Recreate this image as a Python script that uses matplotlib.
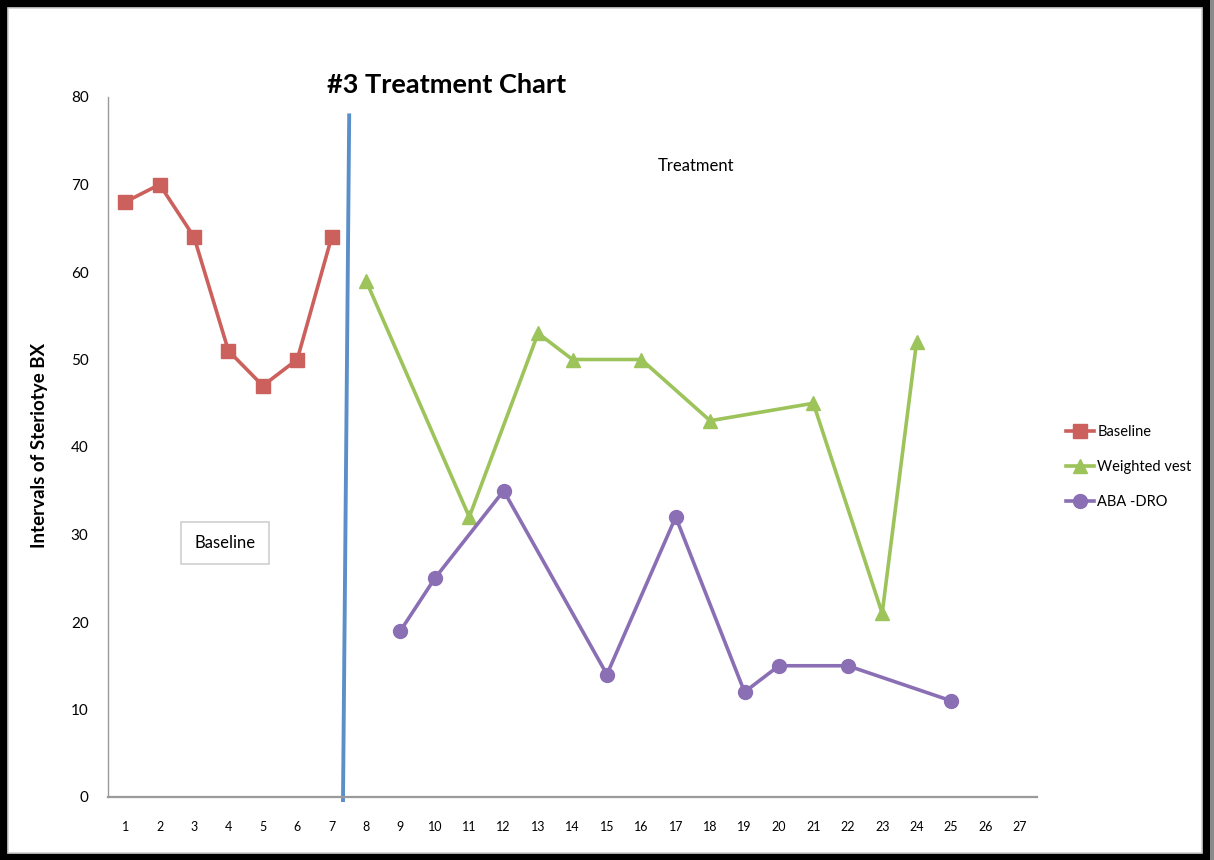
import numpy as np
import matplotlib
matplotlib.use("Agg")
import matplotlib.pyplot as plt
from matplotlib import font_manager
from matplotlib.patches import Rectangle
from matplotlib.lines import Line2D

# data
sessions = list(range(1, 28))
baseline_x = [1, 2, 3, 4, 5, 6, 7]
baseline_y = [68, 70, 64, 51, 47, 50, 64]
vest_x = [8, 11, 13, 14, 16, 18, 21, 23, 24]
vest_y = [59, 32, 53, 50, 50, 43, 45, 21, 52]
dro_x = [9, 10, 12, 15, 17, 19, 20, 22, 25]
dro_y = [19, 25, 35, 14, 32, 12, 15, 15, 11]
y_ticks = [0, 10, 20, 30, 40, 50, 60, 70, 80]

RED = "#CB605C"
GREEN = "#9DC35B"
PURPLE = "#8B6FB4"
BLUE = "#5B8FC9"
TEXT_FONT = ["Lato", "DejaVu Sans"]


def has_font(name):
    try:
        font_manager.findfont(name, fallback_to_default=False)
        return True
    except Exception:
        return False


NARROW_FONT = ["Liberation Sans Narrow", "DejaVu Sans"] if has_font("Liberation Sans Narrow") else TEXT_FONT

fig = plt.figure(figsize=(12.14, 8.6), dpi=100, facecolor="black")
W, H = 1214, 860

# white page inside the black frame
fig.patches.append(Rectangle((1210 / W, 0), 4 / W, 1, transform=fig.transFigure,
                             facecolor="#8a8a8a", edgecolor="none", zorder=0))
fig.patches.append(Rectangle((8 / W, 7 / H), 1194 / W, 845 / H, transform=fig.transFigure,
                             facecolor="white", edgecolor="#cfcfcf", linewidth=1.2, zorder=1))

ax = fig.add_axes([108 / W, 63 / H, 929 / W, 700 / H])
ax.set_facecolor("none")
ax.set_zorder(2)

ax.plot(baseline_x, baseline_y, color=RED, marker="s", markersize=10, linewidth=2.6,
        label="Baseline")
ax.plot(vest_x, vest_y, color=GREEN, marker="^", markersize=10, linewidth=2.6,
        label="Weighted vest")
ax.plot(dro_x, dro_y, color=PURPLE, marker="o", markersize=10, linewidth=2.6,
        label="ABA -DRO")

# phase change line (slightly slanted, as drawn by hand)
ax.add_line(Line2D([7.51, 7.33], [77.9, -0.35], color=BLUE, linewidth=2.8, clip_on=False))

ax.set_xlim(0.5, 27.5)
ax.set_ylim(0, 80)
ax.set_xticks(sessions)
ax.set_xticklabels([str(s) for s in sessions], fontsize=9, family=NARROW_FONT)
ax.set_yticks(y_ticks)
ax.set_yticklabels([str(v) for v in y_ticks], fontsize=11, family=NARROW_FONT)
ax.tick_params(axis="both", length=0)
ax.tick_params(axis="x", pad=17)
ax.tick_params(axis="y", pad=14)
for side in ["top", "right"]:
    ax.spines[side].set_visible(False)
ax.spines["left"].set_color("#9a9a9a")
ax.spines["left"].set_linewidth(1)
ax.spines["bottom"].set_color("#9a9a9a")
ax.spines["bottom"].set_linewidth(1.6)

fig.text(40 / W, 1 - 445 / H, "Intervals of Steriotye BX", fontsize=13.5, fontweight="bold",
         family=TEXT_FONT, rotation=90, ha="center", va="center")

fig.text(447 / W, 1 - 85 / H, "#3 Treatment Chart", fontsize=19.5, fontweight="bold",
         family=NARROW_FONT, ha="center", va="center")
fig.text(696 / W, 1 - 166 / H, "Treatment", fontsize=12, family=TEXT_FONT,
         ha="center", va="center")
fig.text(225 / W, 1 - 543 / H, "Baseline", fontsize=12, family=TEXT_FONT,
         ha="center", va="center",
         bbox=dict(boxstyle="square,pad=0.8", facecolor="white", edgecolor="#d0d0d0",
                   linewidth=1.2))

leg = fig.legend(loc="center left", bbox_to_anchor=(1053 / W, 1 - 467 / H), frameon=False,
                 handlelength=1.9, labelspacing=1.45, handletextpad=0.25,
                 prop={"family": TEXT_FONT, "size": 10.5})

fig.savefig("out.png", dpi=100, facecolor="black")
